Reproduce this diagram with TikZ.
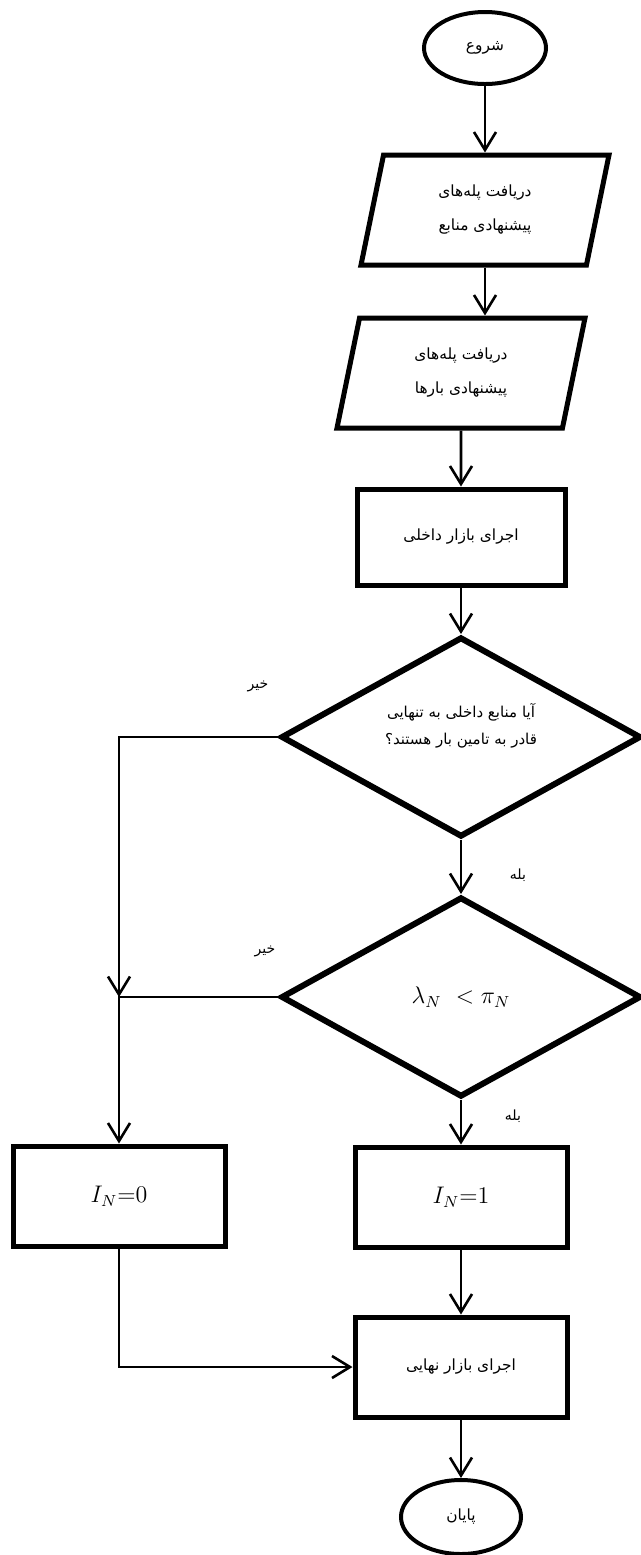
\documentclass[tikz,border=0pt]{standalone}
\usepackage{fontspec}
\newfontfamily\arabicfont[Script=Arabic]{DejaVu Sans}
\TeXXeTstate=1
\usetikzlibrary{shapes.geometric,arrows.meta}
\newcommand{\fatext}[1]{\beginR #1\endR}
\newcommand{\farsi}{\fontsize{7.7pt}{17pt}\arabicfont}
\tikzset{
  terminal/.style={ellipse, draw, line width=2pt, minimum width=61pt, minimum height=36pt, inner sep=0pt, font=\farsi},
  io/.style={trapezium, trapezium left angle=65.5, trapezium right angle=114.5, trapezium stretches body,
    draw, line width=2.5pt, minimum width=124pt, minimum height=55pt, inner sep=0pt, align=center, font=\farsi},
  proc/.style={rectangle, draw, line width=2.5pt, minimum width=106pt, minimum height=50pt, inner sep=0pt, align=center, font=\farsi},
  decision/.style={diamond, draw, line width=3pt, minimum width=180pt, minimum height=100pt, inner sep=0pt, aspect=1.8,
    align=center, font=\fontsize{7.5pt}{13.5pt}\arabicfont},
  mathtext/.style={font=\fontsize{12pt}{14pt}\selectfont},
  lbl/.style={font=\fontsize{7pt}{8pt}\arabicfont, inner sep=0pt},
  arr/.style={draw, line width=1.3pt, -{Straight Barb[length=9pt,width=11pt]}}
}
\begin{document}
\begin{tikzpicture}[x=0.5pt,y=-0.5pt]
  \useasboundingbox (0,0) rectangle (641,1555);

  \node[terminal] (start) at (485,48) {\fatext{شروع}};
  \node[io] (offerS) at (485,210) {\fatext{دریافت پله‌های}\\\fatext{پیشنهادی منابع}};
  \node[io] (offerL) at (461,373) {\fatext{دریافت پله‌های}\\\fatext{پیشنهادی بارها}};
  \node[proc, minimum width=104pt, minimum height=48pt] (inner) at (461,537) {\fatext{اجرای بازار داخلی}};
  \node[decision] (enough) at (461,737) {\fatext{آیا منابع داخلی به تنهایی}\\\fatext{قادر به تامین بار هستند؟}\\\mbox{}};
  \node[decision, mathtext] (price) at (461,997) {$\lambda_N\ <\pi_N$};
  \node[proc, mathtext] (zero) at (119,1196) {$I_N{=}0$};
  \node[proc, mathtext] (one) at (461,1197) {$I_N{=}1$};
  \node[proc] (final) at (461,1367) {\fatext{اجرای بازار نهایی}};
  \node[terminal, minimum width=60pt, minimum height=37pt] (stop) at (461,1517) {\fatext{پایان}};
  \coordinate (join) at (119,997);

  \node[lbl] (no1) at (258,686) {\fatext{خیر}};
  \node[lbl] (yes1) at (518,875) {\fatext{بله}};
  \node[lbl] (no2) at (265,951) {\fatext{خیر}};
  \node[lbl] (yes2) at (513,1116) {\fatext{بله}};

  \draw[arr] (start) -- (offerS);
  \draw[arr] (offerS.south) -- (offerS.south |- offerL.north);
  \draw[arr] (offerL) -- (inner);
  \draw[arr] (inner) -- (enough);
  \draw[arr] (enough) -- (price);
  \draw[arr] (price) -- (one);
  \draw[arr] (one) -- (final);
  \draw[arr] (final) -- (stop);
  \draw[arr] (enough.west) -- (enough.west -| join) -- (join);
  \draw[arr] (price.west) -- (join) -- (zero);
  \draw[arr] (zero) |- (final);
\end{tikzpicture}
\end{document}
